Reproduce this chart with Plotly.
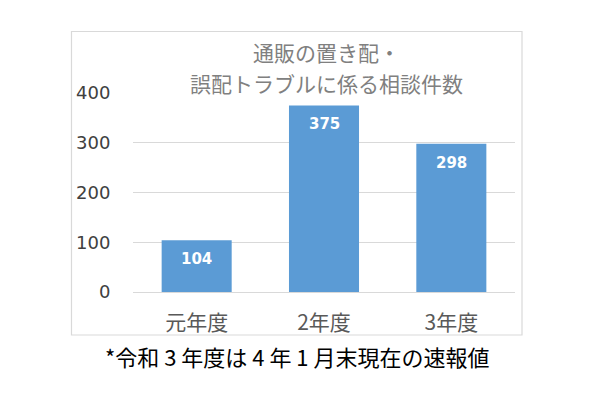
import plotly.graph_objects as go

categories = ["元年度", "2年度", "3年度"]
values = [104, 375, 298]
y_ticks = [0, 100, 200, 300, 400]
title_lines = ["通販の置き配・", "誤配トラブルに係る相談件数"]
caption = "*令和 3 年度は 4 年 1 月末現在の速報値"

OFF = 8  # default page body margin
W, H = 600 - OFF, 399 - OFF
# plot area in page pixels: x 133..515, y 93..292
L, R, T, B = 133 - OFF, 600 - 515, 93 - OFF, 399 - 292
pw, ph = W - L - R, H - T - B

def px_x(x):
    return (x - OFF - L) / pw

def px_y(y):
    return (H - B - (y - OFF)) / ph

fig = go.Figure()
fig.add_trace(go.Bar(
    x=categories, y=values,
    marker=dict(color="#5B9BD5", line=dict(width=0)),
    hoverinfo="skip",
))

for c, v in zip(categories, values):
    fig.add_annotation(
        x=c, y=v, xref="x", yref="y", text=f"<b>{v}</b>", showarrow=False,
        yshift=-19, font=dict(family="DejaVu Sans", size=15, color="white"),
    )

for line, ypix in zip(title_lines, [52, 83]):
    fig.add_annotation(
        xref="paper", yref="paper", x=px_x(326), y=px_y(ypix), text=line,
        showarrow=False, xanchor="center", yanchor="middle",
        font=dict(family="Noto Sans CJK JP", size=21, color="#808080"),
    )

fig.add_annotation(
    xref="paper", yref="paper", x=px_x(297), y=px_y(356), text=caption,
    showarrow=False, xanchor="center", yanchor="middle",
    font=dict(family="Noto Sans CJK JP", size=22, color="#000000"),
)

fig.add_shape(
    type="rect", xref="paper", yref="paper",
    x0=px_x(71.5), x1=px_x(522), y0=px_y(335), y1=px_y(31.5),
    line=dict(color="#d9d9d9", width=1.2), fillcolor="rgba(0,0,0,0)", layer="below",
)

fig.update_layout(
    width=W, height=H,
    margin=dict(l=L, r=R, t=T, b=B),
    paper_bgcolor="white", plot_bgcolor="white",
    bargap=0.45, showlegend=False,
    xaxis=dict(
        showgrid=False, zeroline=False, showline=False,
        ticks="outside", ticklen=12, tickcolor="rgba(0,0,0,0)",
        tickfont=dict(family="Noto Sans CJK JP", size=21, color="#595959"),
    ),
    yaxis=dict(
        range=[0, 400], tickvals=y_ticks, showline=False,
        showgrid=True, gridcolor="#d9d9d9", gridwidth=1,
        zeroline=True, zerolinecolor="#d9d9d9", zerolinewidth=1,
        ticks="outside", ticklen=18, tickcolor="rgba(0,0,0,0)",
        tickfont=dict(family="DejaVu Sans", size=18, color="#404040"),
    ),
)

fig.write_html("out.html")
